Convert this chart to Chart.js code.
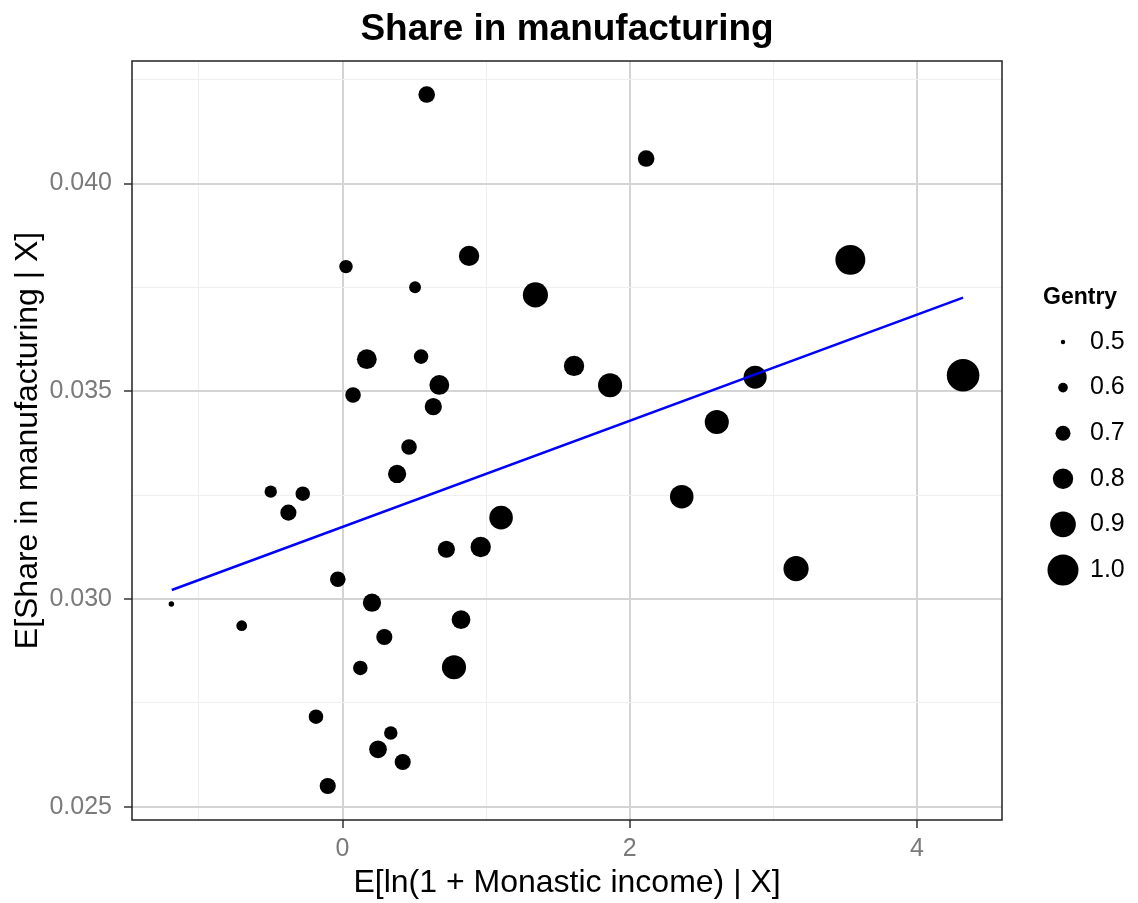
<!DOCTYPE html>
<html>
<head>
<meta charset="utf-8">
<script src="https://cdn.jsdelivr.net/npm/chart.js@4"></script>
<style>
  html, body { margin: 0; padding: 0; background: #ffffff; }
  #wrap { width: 1138px; height: 903px; }
</style>
</head>
<body>
<div id="wrap"><canvas id="c" width="1138" height="903"></canvas></div>
<script>
// ---- data ----
const incomeX = [0.586, 0.024, 0.505, 0.881, 1.343, 0.169, 0.547, 0.674, 0.073, 0.632,
                 2.114, 3.536, 1.612, 1.863, 2.873, 4.321, 2.606, -1.192, -0.702, -0.500,
                 -0.277, -0.377, 0.463, 0.380, 1.104, 0.723, 0.962, -0.033, 0.205, 0.825,
                 0.291, 0.124, 0.776, -0.185, 0.336, 0.247, 0.419, -0.103, 2.362, 3.158];
const shareY = [0.042143, 0.038001, 0.037505, 0.038259, 0.037320, 0.035772, 0.035834, 0.035153, 0.034912, 0.034630,
                0.040602, 0.038163, 0.035610, 0.035146, 0.035338, 0.035386, 0.034262, 0.029880, 0.029357, 0.032584,
                0.032535, 0.032078, 0.033660, 0.033010, 0.031958, 0.031197, 0.031252, 0.030474, 0.029911, 0.029502,
                0.029085, 0.028339, 0.028355, 0.027166, 0.026773, 0.026381, 0.026075, 0.025497, 0.032463, 0.030730];
const gentry = [0.73, 0.67, 0.64, 0.80, 0.89, 0.79, 0.69, 0.79, 0.71, 0.74,
                0.73, 0.98, 0.80, 0.87, 0.85, 1.03, 0.87, 0.52, 0.62, 0.65,
                0.69, 0.72, 0.71, 0.76, 0.86, 0.74, 0.80, 0.71, 0.76, 0.77,
                0.72, 0.69, 0.87, 0.69, 0.67, 0.75, 0.72, 0.72, 0.86, 0.89];
const fitX = [-1.189, 4.321];
const fitY = [0.030217, 0.037255];
const legendGentry = [0.5, 0.6, 0.7, 0.8, 0.9, 1.0];
const legendLabels = ['0.5', '0.6', '0.7', '0.8', '0.9', '1.0'];
const xTickVals = [-1, 0, 1, 2, 3, 4];
const xTickLabels = ['', '0', '', '2', '', '4'];
const yTickVals = [0.025, 0.0275, 0.030, 0.0325, 0.035, 0.0375, 0.040, 0.0425];
const yTickLabels = ['0.025', '', '0.030', '', '0.035', '', '0.040', ''];
const chartTitle = 'Share in manufacturing';

// ---- styling helpers ----
const FONT = "'Liberation Sans', Arial, Helvetica, sans-serif";
function sizeOf(g) { return 2.2 + (g - 0.5) * 26.6; }

const points = incomeX.map((x, i) => ({ x: x, y: shareY[i] }));
const radii = gentry.map(sizeOf);
const fitLine = fitX.map((x, i) => ({ x: x, y: fitY[i] }));

const frameAndLegend = {
  id: 'frameAndLegend',
  afterDraw(chart) {
    const ctx = chart.ctx, a = chart.chartArea;
    ctx.save();
    ctx.strokeStyle = '#222222';
    ctx.lineWidth = 1.5;
    ctx.strokeRect(a.left, a.top, a.right - a.left, a.bottom - a.top);
    // title centred over the panel
    ctx.fillStyle = '#000000';
    ctx.textBaseline = 'middle';
    ctx.textAlign = 'center';
    ctx.font = 'bold 37px ' + FONT;
    ctx.fillText(chartTitle, (a.left + a.right) / 2, 30);
    // legend
    ctx.textAlign = 'left';
    ctx.font = 'bold 23px ' + FONT;
    ctx.fillText('Gentry', 1043, 298);
    ctx.font = '25px ' + FONT;
    legendGentry.forEach((g, i) => {
      const cy = 342 + i * 45.6;
      ctx.beginPath();
      ctx.arc(1063, cy, sizeOf(g), 0, Math.PI * 2);
      ctx.fill();
      ctx.fillText(legendLabels[i], 1090, cy);
    });
    ctx.restore();
  }
};

const isMajorX = i => xTickLabels[i] !== '';
const isMajorY = i => yTickLabels[i] !== '';

new Chart(document.getElementById('c'), {
  type: 'scatter',
  data: {
    datasets: [
      {
        type: 'line',
        data: fitLine,
        borderColor: '#0000ff',
        borderWidth: 2.5,
        pointRadius: 0,
        fill: false,
        order: 0
      },
      {
        type: 'scatter',
        data: points,
        pointRadius: radii,
        pointHoverRadius: radii,
        pointBackgroundColor: '#000000',
        pointBorderWidth: 0,
        borderColor: '#000000',
        order: 1
      }
    ]
  },
  options: {
    responsive: false,
    animation: false,
    events: [],
    layout: { padding: { left: 0, right: 136, top: 61, bottom: 0 } },
    plugins: {
      legend: { display: false },
      tooltip: { enabled: false },
      title: { display: false }
    },
    scales: {
      x: {
        type: 'linear',
        min: -1.466,
        max: 4.592,
        afterBuildTicks: axis => { axis.ticks = xTickVals.map(v => ({ value: v })); },
        afterFit: scale => { scale.height = 83; },
        border: { display: false },
        grid: {
          color: c => isMajorX(c.index) ? '#d4d4d4' : '#efefef',
          lineWidth: c => isMajorX(c.index) ? 2 : 1,
          tickColor: c => isMajorX(c.index) ? '#666666' : 'rgba(0,0,0,0)',
          tickLength: 8,
          tickWidth: 2
        },
        ticks: {
          autoSkip: false,
          maxRotation: 0,
          padding: 6,
          color: '#7a7a7a',
          font: { family: FONT, size: 25 },
          callback: (v, i) => xTickLabels[i]
        },
        title: {
          display: true,
          text: 'E[ln(1 + Monastic income) | X]',
          color: '#000000',
          font: { family: FONT, size: 32 },
          padding: { top: 0, bottom: 1 }
        }
      },
      y: {
        type: 'linear',
        min: 0.02468,
        max: 0.04295,
        afterBuildTicks: axis => { axis.ticks = yTickVals.map(v => ({ value: v })); },
        afterFit: scale => { scale.width = 132; },
        border: { display: false },
        grid: {
          color: c => isMajorY(c.index) ? '#d4d4d4' : '#efefef',
          lineWidth: c => isMajorY(c.index) ? 2 : 1,
          tickColor: c => isMajorY(c.index) ? '#666666' : 'rgba(0,0,0,0)',
          tickLength: 8,
          tickWidth: 2
        },
        ticks: {
          autoSkip: false,
          padding: 12,
          color: '#7a7a7a',
          font: { family: FONT, size: 25 },
          callback: (v, i) => yTickLabels[i]
        },
        title: {
          display: true,
          text: 'E[Share in manufacturing | X]',
          color: '#000000',
          font: { family: FONT, size: 32 },
          padding: { top: 9, bottom: 0 }
        }
      }
    }
  },
  plugins: [frameAndLegend]
});
</script>
</body>
</html>
